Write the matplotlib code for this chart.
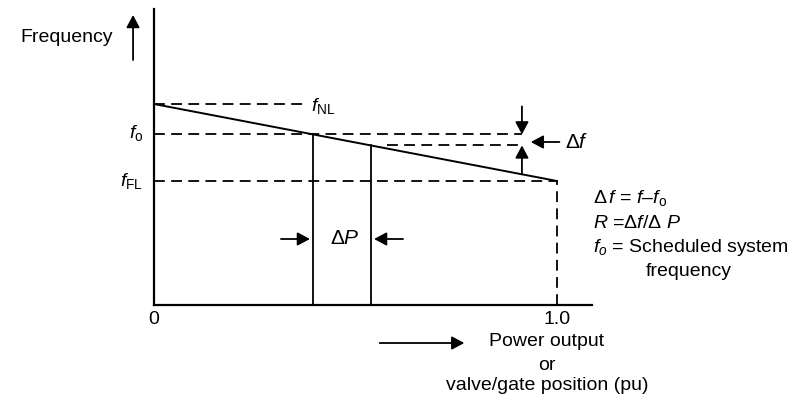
import matplotlib
matplotlib.use('Agg')
import matplotlib.pyplot as plt

plt.rcParams['font.family'] = ['Liberation Sans', 'DejaVu Sans']
plt.rcParams['mathtext.fontset'] = 'custom'
plt.rcParams['mathtext.rm'] = 'Liberation Sans'
plt.rcParams['mathtext.it'] = 'Liberation Sans:italic'
plt.rcParams['mathtext.sf'] = 'Liberation Sans'

# droop characteristic (power in pu, frequency in arbitrary units)
f_nl = 2.01
f_fl = 1.24
p_rated = 1.0
p1 = 0.395     # operating point 1
p2 = 0.538     # operating point 2
p_df = 0.913   # where the delta-f marker sits


def droop(p):
    return f_nl - (f_nl - f_fl) * p / p_rated


f_o = droop(p1)
f_2 = droop(p2)

fs = 14

fig = plt.figure(figsize=(8.09, 3.98), dpi=100)
ax = fig.add_axes([0, 0, 1, 1])
# pixel mapping: x_px = 154 + 403*p ; y_px = 305 - 100*f
ax.set_xlim(-154 / 403, (809 - 154) / 403)
ax.set_ylim((305 - 398) / 100, 305 / 100)
ax.axis('off')

k = 'black'
dash = dict(color=k, lw=1.3, ls=(0, (6, 3.5)))

# axes
ax.plot([0, 0], [0, 2.96], color=k, lw=1.6)
ax.plot([0, 1.088], [0, 0], color=k, lw=1.6)

# droop line
ax.plot([0, p_rated], [f_nl, f_fl], color=k, lw=1.4)

# dashed references
ax.plot([0, 0.37], [f_nl, f_nl], **dash)
ax.plot([0.37 + 0.006, 0.37 + 0.008], [f_nl, f_nl], color=k, lw=1.3)
ax.plot([0, p_df], [f_o, f_o], **dash)
ax.plot([p2 + 0.04, p_df], [f_2, f_2], **dash)
ax.plot([0, p_rated], [f_fl, f_fl], **dash)
ax.plot([p_rated, p_rated], [0, f_fl], **dash)

# operating points
ax.plot([p1, p1], [0, f_o], color=k, lw=1.3)
ax.plot([p2, p2], [0, f_2], color=k, lw=1.3)

arw = dict(arrowstyle='-|>,head_length=0.75,head_width=0.4', color=k, lw=1.3,
           shrinkA=0, shrinkB=0)

# frequency axis arrow
ax.annotate('', xy=(-0.052, 2.9), xytext=(-0.052, 2.45), arrowprops=arw)
ax.text(-0.102, 2.68, 'Frequency', ha='right', va='center', fontsize=fs)

# delta f markers
ax.annotate('', xy=(p_df, f_o), xytext=(p_df, f_o + 0.28), arrowprops=arw)
ax.annotate('', xy=(p_df, f_2), xytext=(p_df, droop(p_df)), arrowprops=arw)
ax.annotate('', xy=(0.935, 1.63), xytext=(1.006, 1.63), arrowprops=arw)
ax.text(1.02, 1.63, r'$\Delta f$', ha='left', va='center', fontsize=fs + 1)

# delta P markers
ax.annotate('', xy=(p1 - 0.008, 0.66), xytext=(p1 - 0.08, 0.66), arrowprops=arw)
ax.annotate('', xy=(p2 + 0.008, 0.66), xytext=(p2 + 0.08, 0.66), arrowprops=arw)
ax.text((p1 + p2) / 2 + 0.006, 0.66, r'$\Delta P$', ha='center', va='center',
        fontsize=fs + 1)

# frequency labels
ax.text(0.42, f_nl - 0.02, r'$f_{\mathrm{NL}}$', ha='center', va='center', fontsize=fs)
ax.text(-0.027, f_o + 0.01, r'$f_{\mathrm{o}}$', ha='right', va='center', fontsize=fs)
ax.text(-0.027, f_fl, r'$f_{\mathrm{FL}}$', ha='right', va='center', fontsize=fs)

# x ticks
ax.text(0, -0.15, '0', ha='center', va='center', fontsize=fs)
ax.text(p_rated, -0.15, '1.0', ha='center', va='center', fontsize=fs)

# x label
ax.annotate('', xy=(0.77, -0.38), xytext=(0.56, -0.38), arrowprops=arw)
ax.text(0.975, -0.37, 'Power output', ha='center', va='center', fontsize=fs)
ax.text(0.975, -0.60, 'or', ha='center', va='center', fontsize=fs)
ax.text(0.975, -0.80, 'valve/gate position (pu)', ha='center', va='center', fontsize=fs)

# definitions
xl = 1.089
ax.text(xl, 1.07, r'$\Delta\, f$ = $f$–$f_{\mathrm{o}}$', ha='left', va='center', fontsize=fs)
ax.text(xl, 0.82, r'$R$ =$\Delta f$/$\Delta\ P$', ha='left', va='center', fontsize=fs)
ax.text(xl, 0.57, r'$f_o$ = Scheduled system', ha='left', va='center', fontsize=fs)
ax.text(1.328, 0.33, 'frequency', ha='center', va='center', fontsize=fs)

fig.savefig('out.png', dpi=100)
